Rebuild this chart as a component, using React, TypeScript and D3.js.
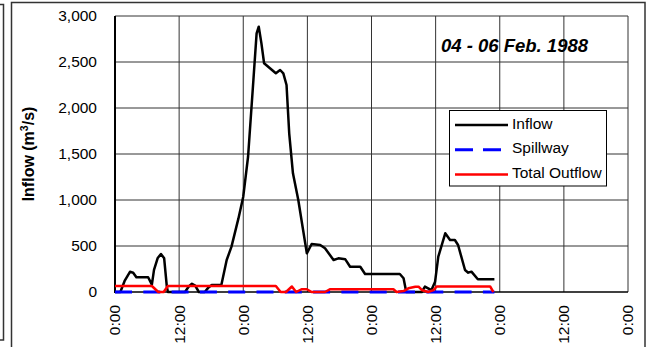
import React from "react";
import * as d3 from "d3";

// ---- data (hours from 0:00 on 04 Feb 1988) ----
const xTickHours = [0, 12, 24, 36, 48, 60, 72, 84, 96];
const xTickLabels = ["0:00", "12:00", "0:00", "12:00", "0:00", "12:00", "0:00", "12:00", "0:00"];
const yTicks = [0, 500, 1000, 1500, 2000, 2500, 3000];

const inflowHours = [0, 1, 1.8, 2.8, 3.4, 4.0, 6.2, 6.9, 7.3, 8.0, 8.6, 9.2, 9.7, 9.9, 13.1, 13.8, 14.4, 15.0, 15.7, 16.8, 17.5, 18.1, 19.9, 20.9, 21.8, 23.1, 24.0, 24.9, 25.9, 26.5, 26.9, 27.4, 27.9, 29.0, 30.1, 30.9, 31.5, 32.1, 32.6, 33.3, 34.3, 35.2, 35.9, 36.8, 38.4, 39.3, 40.9, 41.8, 43.1, 44.0, 45.9, 46.8, 53.3, 54.0, 54.5, 57.4, 58.0, 58.6, 59.2, 59.9, 60.5, 61.8, 62.7, 63.6, 64.2, 65.5, 66.1, 66.7, 67.9, 71.0];
const inflowValues = [0, 0, 120, 220, 210, 160, 160, 80, 240, 370, 413, 366, 58, 0, 0, 60, 90, 70, 0, 0, 50, 76, 76, 348, 493, 800, 1036, 1470, 2304, 2812, 2884, 2703, 2486, 2432, 2377, 2413, 2377, 2250, 1725, 1290, 1000, 674, 420, 522, 511, 475, 348, 366, 355, 275, 275, 196, 196, 149, 0, 0, 58, 40, 20, 112, 384, 638, 565, 565, 511, 239, 210, 221, 138, 138];

const spillwayHours = [0, 71];
const spillwayValues = [0, 0];

const outflowHours = [0, 6.9, 8.1, 9.1, 9.9, 30.1, 31.0, 32.0, 33.1, 33.9, 34.9, 35.9, 36.8, 39.3, 40.2, 52.1, 52.7, 54.0, 54.9, 56.2, 56.8, 57.4, 58.6, 59.6, 60.2, 70.2, 70.8];
const outflowValues = [65, 65, 0, 0, 65, 65, 0, 0, 60, 0, 30, 30, 0, 0, 29, 29, 0, 10, 40, 58, 58, 22, 0, 20, 60, 60, 0];

const legendLabels = ["Inflow", "Spillway", "Total Outflow"];
const annotation = "04 - 06 Feb. 1988";

const W = 652, H = 347;
const L = 115, R = 628, T = 16, B = 292;
const font = "'Liberation Sans', Arial, sans-serif";

export default function App() {
  const x = d3.scaleLinear().domain([0, 96]).range([L, R]);
  const y = d3.scaleLinear().domain([0, 3000]).range([B, T]);
  const mk = (hs: number[], vs: number[]) =>
    d3.line<number>().x((_, i) => x(hs[i])).y((v) => y(v))(vs) || "";

  const colors = ["#000000", "#0000ff", "#ff0000"];

  return (
    <svg width={W} height={H} style={{ position: "absolute", left: 0, top: 0, background: "#fff" }} fontFamily={font}>
      <rect x={0} y={0} width={W} height={H} fill="#fff" />
      {/* frames */}
      <path d="M0,4.5 H3.5 V340 H0" fill="none" stroke="#333" strokeWidth={1.5} />
      <rect x={11.5} y={2.5} width={633.5} height={400} fill="none" stroke="#333" strokeWidth={1.5} />

      {/* gridlines */}
      {yTicks.filter((t) => t > 0).map((t) => (
        <line key={"gy" + t} x1={L} x2={R} y1={y(t)} y2={y(t)} stroke="#333" strokeWidth={1} />
      ))}
      {xTickHours.filter((h) => h > 0).map((h) => (
        <line key={"gx" + h} x1={x(h)} x2={x(h)} y1={T} y2={B} stroke="#333" strokeWidth={1} />
      ))}
      {/* axes */}
      <line x1={L} x2={L} y1={T} y2={B + 1} stroke="#000" strokeWidth={2} />
      <line x1={L} x2={R} y1={B} y2={B} stroke="#000" strokeWidth={1.5} />

      {/* y tick labels */}
      {yTicks.map((t) => (
        <text key={"yl" + t} x={97} y={y(t)} dy="0.35em" textAnchor="end" fontSize={15.5} fill="#000">
          {d3.format(",")(t)}
        </text>
      ))}
      {/* x tick labels */}
      {xTickHours.map((h, i) => (
        <text key={"xl" + i} transform={`translate(${x(h)},305) rotate(-90)`} dy="0.35em" textAnchor="end" fontSize={15.5} fill="#000">
          {xTickLabels[i]}
        </text>
      ))}
      {/* y title */}
      <text transform="translate(28,154) rotate(-90)" textAnchor="middle" dy="0.35em" fontSize={16} fontWeight="bold" fill="#000">
        Inflow (m<tspan fontSize={10.5} dy="-6">3</tspan><tspan dy="6">/s)</tspan>
      </text>

      {/* annotation */}
      <text x={588} y={52} textAnchor="end" fontSize={18.5} fontWeight="bold" fontStyle="italic" fill="#000">
        {annotation}
      </text>

      {/* series */}
      <path d={mk(inflowHours, inflowValues)} fill="none" stroke={colors[0]} strokeWidth={2.5} strokeLinejoin="round" />
      <path d={mk(spillwayHours, spillwayValues)} fill="none" stroke={colors[1]} strokeWidth={3} strokeDasharray="17 11.3" />
      <path d={mk(outflowHours, outflowValues)} fill="none" stroke={colors[2]} strokeWidth={2.5} strokeLinejoin="round" />

      {/* legend */}
      <rect x={449.5} y={110.5} width={157} height={75.5} fill="#fff" stroke="#000" strokeWidth={1} />
      {legendLabels.map((lab, i) => {
        const ly = 125 + i * 24.7;
        return (
          <g key={lab}>
            <line x1={455} x2={i === 1 ? 502 : 508} y1={ly} y2={ly} stroke={colors[i]} strokeWidth={i === 1 ? 3 : 2.5} strokeDasharray={i === 1 ? "18 10" : undefined} />
            <text x={512} y={ly + 3.5} fontSize={15.5} fill="#000">{lab}</text>
          </g>
        );
      })}
    </svg>
  );
}
